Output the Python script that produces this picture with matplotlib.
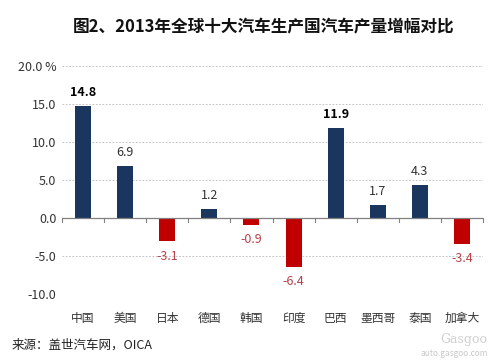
import matplotlib.pyplot as plt
import numpy as np

plt.rcParams['font.family'] = ['Noto Sans CJK SC', 'DejaVu Sans']

countries = ["中国", "美国", "日本", "德国", "韩国", "印度", "巴西", "墨西哥", "泰国", "加拿大"]
growth = [14.8, 6.9, -3.1, 1.2, -0.9, -6.4, 11.9, 1.7, 4.3, -3.4]
bold_labels = ["中国", "巴西"]
yticks = [-10, -5, 0, 5, 10, 15, 20]

NAVY = "#1a355e"
RED = "#c00000"

fig = plt.figure(figsize=(5.0, 3.61), dpi=100)
ax = fig.add_axes([0.124, 0.186, 0.842, 0.631])

x = np.arange(len(countries))
colors = [NAVY if v >= 0 else RED for v in growth]
ax.bar(x, growth, width=0.38, color=colors, zorder=3)

for xi, v, name in zip(x, growth, countries):
    if v >= 0:
        bold = name in bold_labels
        ax.text(xi, v + 0.9, f"{v:.1f}", ha='center', va='bottom', fontsize=9,
                color='black' if bold else '#333333',
                fontweight='bold' if bold else 'normal')
    else:
        ax.text(xi, v - 1.1, f"{v:.1f}", ha='center', va='top', fontsize=9,
                color='#b5434a')

ax.set_xlim(-0.5, len(countries) - 0.5)
ax.set_ylim(-10, 20)
ax.set_yticks(yticks)
ax.set_yticklabels([f"{t:.1f}" if t != 20 else "20.0 %" for t in yticks],
                   fontsize=9, color='#333333')
ax.tick_params(axis='y', length=0, pad=4)

for t in yticks:
    if t != 0:
        ax.axhline(t, color='#b8b8b8', lw=0.6, ls=(0, (2, 2)), zorder=1)
ax.axhline(0, color='#808080', lw=0.9, zorder=4)

for b in np.arange(-0.5, len(countries), 1.0):
    ax.plot([b, b], [0, -0.6], color='#808080', lw=0.8, zorder=4, clip_on=False)

ax.set_xticks(x)
ax.set_xticklabels([])
ax.tick_params(axis='x', length=0)
for xi, name in zip(x, countries):
    ax.text(xi, -13.2, name, ha='center', va='center', fontsize=8.5, color='#333333')

for s in ax.spines.values():
    s.set_visible(False)

fig.text(0.527, 0.925, "图2、2013年全球十大汽车生产国汽车产量增幅对比", ha='center', va='center',
         fontsize=12, fontweight='bold', color='#111111')
fig.text(0.024, 0.045, "来源：盖世汽车网，OICA", ha='left', va='center', fontsize=9, color='#222222')
fig.text(0.975, 0.022, "auto.gasgoo.com", ha='right', va='center', fontsize=6, color='#c8c8c8')
fig.text(0.975, 0.06, "Gasgoo", ha='right', va='center', fontsize=9, color='#d0d0d0',
         family='DejaVu Serif')

fig.savefig("out.png", dpi=100)
